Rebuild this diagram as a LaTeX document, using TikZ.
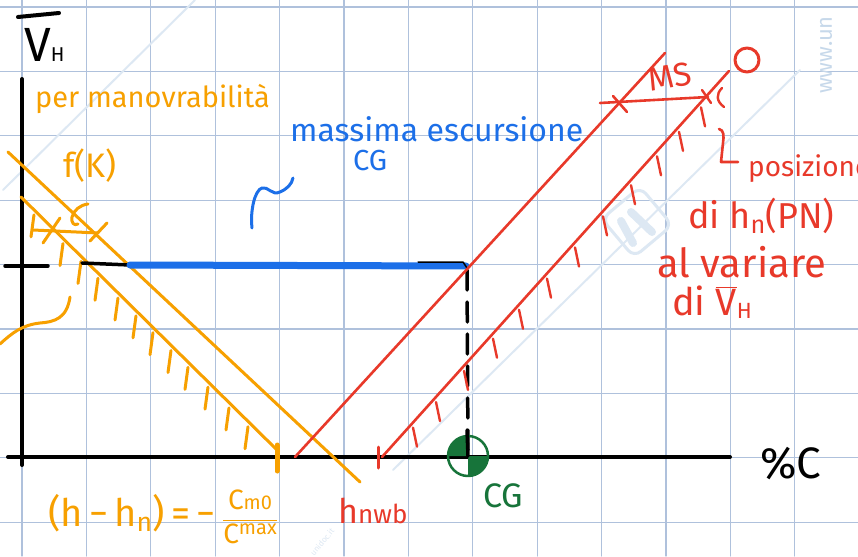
\documentclass[tikz,border=0pt]{standalone}
\usepackage{fontspec}
\setmainfont{Fira Sans}
\setsansfont{Fira Sans}
\usetikzlibrary{calc}
\definecolor{gridc}{HTML}{AFC1DC}
\definecolor{orng}{HTML}{F7A000}
\definecolor{redc}{HTML}{E8392A}
\definecolor{bluec}{HTML}{1C6FE8}
\definecolor{grn}{HTML}{17743A}
\definecolor{wm}{HTML}{DDE8F3}
\definecolor{wmtext}{HTML}{C6D8EA}
\newcommand\hsz[1]{\fontsize{#1}{#1}\selectfont}
\begin{document}
\begin{tikzpicture}[x=1pt,y=-1pt, line cap=round, line join=round,
  gridline/.style={gridc, line width=1.2},
  axis/.style={black, line width=4},
  oline/.style={orng, line width=3},
  rline/.style={redc, line width=2.6},
  ohatch/.style={orng, line width=3},
  rhatch/.style={redc, line width=2.4},
  txt/.style={inner sep=0pt, anchor=base west},
  wmline/.style={wm, line width=2}
]
\useasboundingbox (0,0) rectangle (858,556);
\fill[white] (0,0) rectangle (858,556);
\clip (0,0) rectangle (858,556);

% grid
\foreach \k in {0,...,13} \draw[gridline] ({22+64.4*\k},0) -- ({22+64.4*\k},556);
\foreach \k in {0,...,8} \draw[gridline] (0,{7+64.4*\k}) -- (858,{7+64.4*\k});

% watermark
\draw[wmline] (3,190) -- (195,0);
\draw[wmline] (393,470) -- (800,70);
\node (wmlogo) [draw=wm, line width=3, rounded corners=9, minimum size=50, rotate=40] at (637,222) {};
\draw[wm, line width=8] (621,221) -- (633,243);
\draw[wm, line width=8] (631,212) -- (652,232);
\node (wmurl) [txt, anchor=center, text=wmtext, rotate=90, font=\hsz{22}] at (826,55) {www.un};
\node (wmdoc) [txt, anchor=center, text=wm, rotate=50, font=\hsz{8}] at (322,542) {unidoc.it};

% axes
\coordinate (ytop) at (22,79); \coordinate (ybot) at (22,465);
\coordinate (xl) at (8,457); \coordinate (xr) at (730,457);
\draw[axis] (ytop) -- (ybot);
\draw[axis] (xl) -- (xr);
\draw[black, line width=4] (18,17) -- (59,13);
\node (vh) [txt] at (24,62) {\hsz{48}V\hsz{20}H};
\node (pc) [txt] at (760,478) {\hsz{44}\%C};

% orange lines
\coordinate (o1a) at (8,152); \coordinate (o1b) at (360,482);
\coordinate (o2a) at (21,197); \coordinate (o2b) at (277,450);
\draw[oline] (o1a) -- (o1b);
\draw[oline] (o2a) -- (o2b);
\draw[orng, line width=5] (277,445) -- (277,471);
\foreach \x in {33,62,80,97,117,135,152,170,187,207,228,247}
  \draw[ohatch] ({\x+1},{197+(\x-21)*0.99+6}) -- ++(-3,22);
\coordinate (k1) at (33,230); \coordinate (k2) at (98,233);
\draw[oline] (k1) -- (k2);
\draw[oline] (43,243) -- (60,218);
\draw[oline] (90,241) -- (107,223);
\draw[oline] (88,204) .. controls (80,205) and (74,210) .. (72,217) .. controls (71,223) and (74,226) .. (78,224);
\draw[oline] (0,344) .. controls (12,333) and (22,325) .. (40,323) .. controls (55,322) and (67,318) .. (70,297);
\node (pm) [txt, text=orng] at (35,108) {\hsz{29}per manovrabilità};
\node (fk) [txt, text=orng] at (63,177) {\hsz{34}f(K)};
\node (formula) [txt, text=orng] at (48,526) {\hsz{38}(h\,−\,h\textsubscript{n})\,=\,−\,$\displaystyle\frac{\hbox{\hsz{28}C\hsz{20}m0}}{\hbox{\hsz{28}C\raisebox{9pt}{\hsz{20}max}}}$};

% black horizontal marks and blue line
\draw[black, line width=3.5] (5,266) -- (48,266);
\draw[black, line width=3.5] (82,263) -- (130,265);
\coordinate (b1) at (130,265); \coordinate (b2) at (466,266);
\draw[bluec, line width=7] (b1) -- (b2);
\draw[black, line width=1.5] (418,262) -- (463,262) -- (467,268);
\draw[bluec, line width=3] (252,228) .. controls (250,210) and (255,190) .. (262,188) .. controls (268,186) and (272,196) .. (280,192) .. controls (287,189) and (292,184) .. (293,178);
\node (me) [txt, text=bluec] at (290,142) {\hsz{32}massima escursione};
\node (cgb) [txt, text=bluec] at (353,170) {\hsz{29}CG};

% dashed vertical and CG symbol
\coordinate (cgtop) at (467,270); \coordinate (cg) at (468,456);
\draw[black, line width=3.5, dash pattern=on 20pt off 12pt] (cgtop) -- (cg);
\fill[grn] (cg) -- ++(-20,0) arc[start angle=180, end angle=270, radius=20] -- cycle;
\fill[grn] (cg) -- ++(20,0) arc[start angle=0, end angle=90, radius=20] -- cycle;
\draw[grn, line width=2.5] (cg) circle[radius=20];
\draw[black, line width=3.5] (467,430) -- (cg);
\node (cgg) [txt, text=grn] at (483,507) {\hsz{34}CG};

% red lines
\coordinate (ra1) at (295,457); \coordinate (ra2) at (665,53);
\coordinate (rb1) at (382,457); \coordinate (rb2) at (729,71);
\draw[rline] (ra1) -- (ra2);
\draw[rline] (rb1) -- (rb2);
\foreach \x in {412,435,463,492,518,546,574,602,630,656,678,700}
  \draw[rhatch] ({\x+1},{457-(\x-382)*1.112+4}) -- ++(4,19);
\draw[rhatch] (702,90) -- (711,103);
\draw[rhatch] (722,88) .. controls (716,94) and (716,101) .. (724,107);
\draw[redc, line width=3] (378,447) -- (378,468);
\coordinate (ms1) at (600,103); \coordinate (ms2) at (708,97);
\draw[rline] (ms1) -- (ms2);
\draw[rline] (613,96) -- (627,112);
\node (ms) [txt, text=redc, rotate=10] at (650,92) {\hsz{33}MS};
\node (O) [draw=redc, line width=3, circle, minimum size=24, inner sep=0pt] at (747,60) {};
\draw[rline] (719,129) .. controls (724,130) and (724,136) .. (723,143) -- (721,162) -- (738,162);
\node (pos) [txt, text=redc] at (748,176) {\hsz{28}posizione};
\node (dihn) [txt, text=redc] at (688,228) {\hsz{36}di h\textsubscript{n}(PN)};
\node (alv) [txt, text=redc] at (657,277) {\hsz{40}al variare};
\node (divh) [txt, text=redc] at (672,315) {\hsz{38}di $\overline{\hbox{V}}$\raisebox{-3pt}{\hsz{22}H}};
\node (hnwb) [txt, text=redc] at (338,523) {\hsz{34}h\hsz{26}nwb};
\end{tikzpicture}
\end{document}
